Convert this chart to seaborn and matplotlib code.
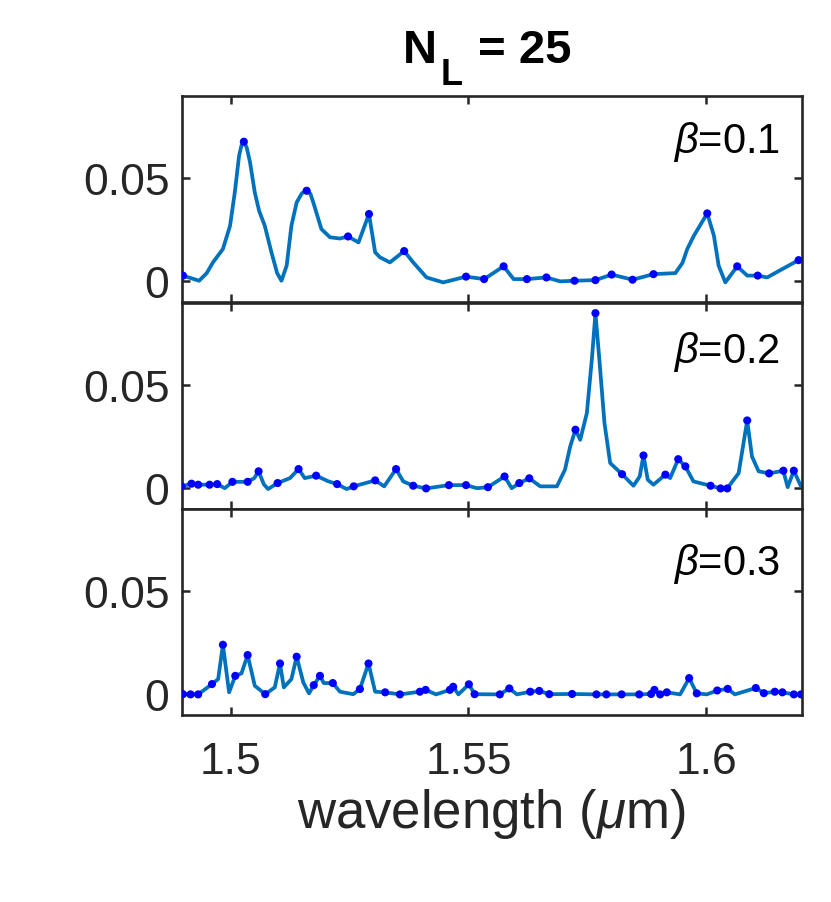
import numpy as np
import pandas as pd
import matplotlib
matplotlib.use("Agg")
import matplotlib.pyplot as plt
import seaborn as sns

# --- data (wavelength in um, value, 1 = marked point) ---
wl_1 = [1.4900, 1.4934, 1.4950, 1.4963, 1.4984, 1.4999, 1.5009, 1.5018, 1.5023, 1.5028,
        1.5034, 1.5041, 1.5051, 1.5060, 1.5072, 1.5086, 1.5098, 1.5107, 1.5118, 1.5128,
        1.5139, 1.5150, 1.5160, 1.5168, 1.5174, 1.5191, 1.5209, 1.5230, 1.5247, 1.5269,
        1.5291, 1.5304, 1.5314, 1.5335, 1.5365, 1.5384, 1.5412, 1.5447, 1.5495, 1.5533,
        1.5574, 1.5595, 1.5623, 1.5664, 1.5693, 1.5723, 1.5767, 1.5801, 1.5845, 1.5889,
        1.5935, 1.5950, 1.5960, 1.5974, 1.6002, 1.6016, 1.6026, 1.6040, 1.6065, 1.6086,
        1.6108, 1.6128, 1.6160, 1.6194, 1.6201]
ref_1 = [0.0028, 0.0003, 0.0040, 0.0092, 0.0157, 0.0270, 0.0432, 0.0610, 0.0660, 0.0678,
         0.0650, 0.0578, 0.0432, 0.0343, 0.0270, 0.0141, 0.0040, 0.0003, 0.0076, 0.0270,
         0.0383, 0.0428, 0.0440, 0.0425, 0.0383, 0.0254, 0.0214, 0.0208, 0.0218, 0.0189,
         0.0327, 0.0141, 0.0117, 0.0092, 0.0147, 0.0092, 0.0019, -0.0005, 0.0023, 0.0011,
         0.0073, 0.0011, 0.0011, 0.0019, 0.0000, 0.0003, 0.0006, 0.0033, 0.0008, 0.0035,
         0.0040, 0.0090, 0.0157, 0.0222, 0.0330, 0.0222, 0.0076, -0.0005, 0.0073, 0.0028,
         0.0028, 0.0019, 0.0060, 0.0103, 0.0108]
mark_1 = [1, 0, 0, 0, 0, 0, 0, 0, 0, 1,
          0, 0, 0, 0, 0, 0, 0, 0, 0, 0,
          0, 0, 1, 0, 0, 0, 0, 0, 1, 0,
          1, 0, 0, 0, 1, 0, 0, 0, 1, 1,
          1, 0, 1, 1, 0, 1, 1, 1, 1, 1,
          0, 0, 0, 0, 1, 0, 0, 0, 1, 0,
          1, 0, 0, 1, 0]

wl_2 = [1.4897, 1.4918, 1.4932, 1.4956, 1.4972, 1.4988, 1.5004, 1.5036, 1.5050, 1.5059,
        1.5070, 1.5079, 1.5099, 1.5125, 1.5143, 1.5156, 1.5180, 1.5205, 1.5224, 1.5244,
        1.5259, 1.5304, 1.5323, 1.5348, 1.5363, 1.5384, 1.5411, 1.5459, 1.5495, 1.5518,
        1.5541, 1.5576, 1.5591, 1.5607, 1.5628, 1.5651, 1.5686, 1.5703, 1.5714, 1.5725,
        1.5735, 1.5749, 1.5760, 1.5767, 1.5776, 1.5786, 1.5798, 1.5823, 1.5847, 1.5860,
        1.5868, 1.5877, 1.5889, 1.5914, 1.5924, 1.5941, 1.5956, 1.5973, 1.6009, 1.6030,
        1.6044, 1.6068, 1.6086, 1.6096, 1.6110, 1.6132, 1.6162, 1.6171, 1.6184, 1.6199]
ref_2 = [0.0010, 0.0023, 0.0018, 0.0018, 0.0021, 0.0001, 0.0032, 0.0032, 0.0050, 0.0083,
         0.0020, -0.0003, 0.0026, 0.0050, 0.0094, 0.0050, 0.0062, 0.0035, 0.0021, -0.0003,
         0.0010, 0.0039, 0.0010, 0.0094, 0.0034, 0.0013, 0.0000, 0.0016, 0.0016, 0.0001,
         0.0006, 0.0058, 0.0001, 0.0026, 0.0049, 0.0010, 0.0010, 0.0091, 0.0204, 0.0285,
         0.0236, 0.0366, 0.0641, 0.0851, 0.0605, 0.0317, 0.0123, 0.0069, 0.0013, 0.0058,
         0.0160, 0.0042, 0.0018, 0.0067, 0.0050, 0.0142, 0.0107, 0.0034, 0.0013, 0.0000,
         0.0000, 0.0074, 0.0330, 0.0155, 0.0083, 0.0073, 0.0086, 0.0006, 0.0086, 0.0010]
mark_2 = [1, 1, 1, 1, 1, 0, 1, 1, 0, 1,
          0, 0, 1, 0, 1, 0, 1, 0, 1, 0,
          1, 1, 0, 1, 0, 1, 1, 1, 1, 0,
          1, 1, 0, 1, 1, 0, 0, 0, 0, 1,
          0, 0, 0, 1, 0, 0, 0, 1, 0, 0,
          1, 0, 0, 1, 0, 1, 1, 0, 1, 1,
          1, 0, 1, 0, 0, 1, 1, 0, 1, 0]

wl_3 = [1.4900, 1.4916, 1.4932, 1.4961, 1.4974, 1.4984, 1.4997, 1.5010, 1.5023, 1.5036,
        1.5051, 1.5073, 1.5093, 1.5104, 1.5112, 1.5128, 1.5139, 1.5153, 1.5165, 1.5175,
        1.5188, 1.5196, 1.5215, 1.5230, 1.5258, 1.5272, 1.5290, 1.5304, 1.5325, 1.5356,
        1.5398, 1.5410, 1.5432, 1.5461, 1.5468, 1.5479, 1.5501, 1.5513, 1.5566, 1.5586,
        1.5602, 1.5630, 1.5649, 1.5670, 1.5718, 1.5769, 1.5790, 1.5822, 1.5859, 1.5884,
        1.5891, 1.5903, 1.5917, 1.5945, 1.5964, 1.5980, 1.6001, 1.6023, 1.6045, 1.6060,
        1.6104, 1.6121, 1.6144, 1.6160, 1.6184, 1.6199]
ref_3 = [0.0001, 0.0000, 0.0000, 0.0050, 0.0074, 0.0241, 0.0010, 0.0090, 0.0102, 0.0191,
         0.0042, 0.0001, 0.0034, 0.0150, 0.0034, 0.0074, 0.0183, 0.0058, 0.0005, 0.0045,
         0.0090, 0.0055, 0.0055, 0.0013, 0.0001, 0.0026, 0.0150, 0.0013, 0.0010, 0.0000,
         0.0013, 0.0022, 0.0000, 0.0022, 0.0037, 0.0000, 0.0049, 0.0001, 0.0000, 0.0029,
         0.0000, 0.0013, 0.0017, 0.0001, 0.0002, 0.0000, 0.0000, 0.0000, 0.0000, 0.0002,
         0.0022, 0.0000, 0.0010, 0.0000, 0.0079, 0.0005, 0.0000, 0.0019, 0.0027, 0.0000,
         0.0031, 0.0006, 0.0013, 0.0010, 0.0000, 0.0000]
mark_3 = [1, 1, 1, 1, 0, 1, 0, 1, 0, 1,
          0, 1, 0, 1, 0, 0, 1, 0, 0, 1,
          1, 0, 1, 0, 0, 1, 1, 0, 1, 1,
          1, 1, 0, 1, 1, 0, 1, 1, 1, 1,
          0, 1, 1, 1, 1, 1, 1, 1, 1, 1,
          1, 1, 1, 0, 1, 1, 0, 1, 1, 0,
          1, 1, 1, 1, 1, 1]

betas = ["0.1", "0.2", "0.3"]
xticks = [1.5, 1.55, 1.6]
xtick_labels = ["1.5", "1.55", "1.6"]
yticks = [0, 0.05]
ytick_labels = ["0", "0.05"]

sns.set_theme(style="ticks")
plt.rcParams['font.family'] = ['Liberation Sans', 'DejaVu Sans']
plt.rcParams['mathtext.fontset'] = 'custom'
plt.rcParams['mathtext.rm'] = 'Liberation Sans'
plt.rcParams['mathtext.it'] = 'Liberation Sans:italic'
plt.rcParams['mathtext.bf'] = 'Liberation Sans:bold'

dark = '#262626'
W, H = 831, 903
fig = plt.figure(figsize=(W / 100, H / 100), dpi=100)
bottoms = [0.6645, 0.4352, 0.2071]
beta_y = [0.73, 0.712, 0.684]
panels = [(wl_1, ref_1, mark_1), (wl_2, ref_2, mark_2), (wl_3, ref_3, mark_3)]

for i, (wl, ref, mark) in enumerate(panels):
    ax = fig.add_axes([0.219, bottoms[i], 0.746, 0.2281])
    df = pd.DataFrame({"wl": wl, "r": ref, "m": mark})
    sns.lineplot(data=df, x="wl", y="r", ax=ax, color='#0072BD', lw=2.7, sort=False)
    sns.scatterplot(data=df[df.m == 1], x="wl", y="r", ax=ax, color='#0000FF',
                    s=34, edgecolor='none', zorder=3)
    ax.set_xlim(1.4898, 1.6201)
    ax.set_ylim(-0.01, 0.09)
    ax.set_xticks(xticks, labels=xtick_labels if i == 2 else [])
    ax.set_yticks(yticks, labels=ytick_labels)
    ax.tick_params(direction='in', length=6, width=1.8, color=dark, labelcolor=dark,
                   labelsize=32, top=True, right=True)
    ax.tick_params(axis='y', pad=9)
    ax.tick_params(axis='x', pad=19)
    ax.set_xlabel("")
    ax.set_ylabel("")
    for sp in ax.spines.values():
        sp.set_visible(True)
        sp.set_color(dark)
        sp.set_linewidth(1.9)
    ax.text(0.965, beta_y[i], r"$\it{\beta}$=" + betas[i], transform=ax.transAxes,
            ha='right', va='baseline', fontsize=30, color='black')

# title N_L = 25 built from pieces so the subscript sits as low as in the reference
fig.text(403 / W, 1 - 62.7 / H, "N", ha='left', va='baseline',
         fontsize=34, fontweight='bold', color='black')
fig.text(441 / W, 1 - 85 / H, "L", ha='left', va='baseline',
         fontsize=26, fontweight='bold', color='black')
fig.text(478 / W, 1 - 62.7 / H, "= 25", ha='left', va='baseline',
         fontsize=34, fontweight='bold', color='black')
fig.text(491 / W, 1 - 828 / H, r"wavelength ($\mu$m)", ha='center', va='baseline',
         fontsize=38, color=dark)

fig.savefig("out.png", dpi=100)
